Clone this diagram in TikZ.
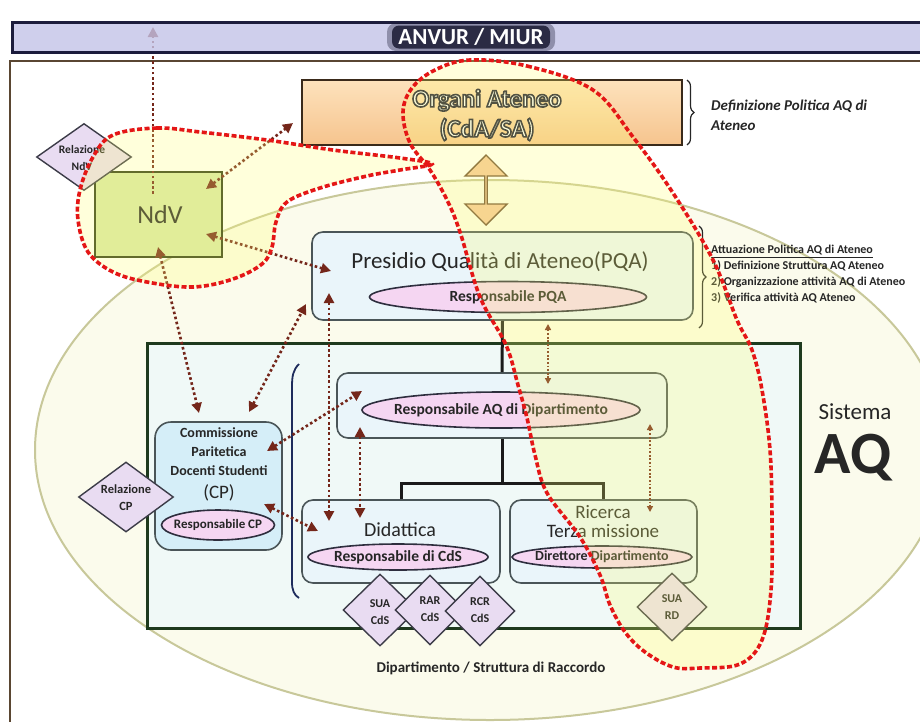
\documentclass[tikz,border=0pt]{standalone}
\usepackage{fontspec}
\setmainfont{Carlito}
\usetikzlibrary{arrows.meta,shapes.geometric,shapes.arrows,decorations.pathreplacing}

\definecolor{framebrown}{HTML}{5A4632}
\definecolor{barfill}{HTML}{C4C4E8}
\definecolor{barline}{HTML}{1C1C3C}
\definecolor{halodark}{HTML}{1A1A33}
\definecolor{ellfill}{HTML}{FBFBEC}
\definecolor{elldraw}{HTML}{C8C89A}
\definecolor{peachtop}{HTML}{FDE2BC}
\definecolor{peachbot}{HTML}{F6C48E}
\definecolor{orgline}{HTML}{3A2A1A}
\definecolor{boxfill}{HTML}{EAF5FA}
\definecolor{boxline}{HTML}{4A5558}
\definecolor{cpfill}{HTML}{D5EEF8}
\definecolor{dipfill}{HTML}{F0F9F7}
\definecolor{dipline}{HTML}{1E3A1E}
\definecolor{pinkfill}{HTML}{F5D6F2}
\definecolor{ovalline}{HTML}{2E2E3E}
\definecolor{docfill}{HTML}{E9DCF2}
\definecolor{docline}{HTML}{3C3C48}
\definecolor{ndvfill}{HTML}{D8E8A8}
\definecolor{ndvline}{HTML}{2E3A14}
\definecolor{linkbrown}{HTML}{74261A}
\definecolor{treeline}{HTML}{1A1A1A}
\definecolor{bracketblue}{HTML}{1E2C5C}
\definecolor{hlyellow}{HTML}{FFFF70}
\definecolor{hlred}{HTML}{E41616}
\definecolor{inkgray}{HTML}{262626}
\definecolor{arrowpeach}{HTML}{F5C89C}
\definecolor{arrowline}{HTML}{6E4E32}

% white letters whose outline is stroked in a dark ink
\newcommand\outlined[2][1.4]{\leavevmode
  \special{pdf:literal direct 2 Tr #1 w 0.1 0.1 0.2 RG}#2\special{pdf:literal direct 0 Tr}}
\newcommand\fsz[2]{\fontsize{#1}{#2}\selectfont}

\tikzset{
  box/.style={draw=boxline, line width=1.6pt, rounded corners=11pt, inner sep=0pt},
  oval/.style={ellipse, draw=ovalline, line width=1.6pt, fill=pinkfill, inner sep=0pt},
  ovaltext/.style={inner sep=0pt, text=inkgray, font=\bfseries\fsz{15.5}{18}},
  doc/.style={diamond, draw=docline, line width=1.4pt, fill=docfill, inner sep=0pt},
  doctext/.style={inner sep=0pt, align=center, text=inkgray, font=\bfseries\fsz{12}{17}},
  title/.style={inner sep=0pt, text=inkgray},
  link/.style={draw=linkbrown, line width=2.6pt, dash pattern=on 2.6pt off 2.6pt,
    arrows={Triangle[length=10pt,width=10pt]-Triangle[length=10pt,width=10pt]}},
  uplink/.style={link, arrows={-Triangle[length=10pt,width=10pt]}},
  faintlink/.style={draw=linkbrown, line width=1.6pt, dash pattern=on 1.8pt off 1.8pt,
    arrows={Triangle[length=6pt,width=6pt]-Triangle[length=6pt,width=6pt]}},
  tree/.style={draw=treeline, line width=3pt},
  hlzone/.style={draw=hlred, line width=3.6pt, dash pattern=on 5pt off 2.5pt},
  bracefig/.style={draw=inkgray, line width=1.2pt, decorate, decoration={brace, amplitude=7pt}}
}

\begin{document}
\begin{tikzpicture}[x=1pt, y=-1pt]
\useasboundingbox (0,0) rectangle (920,721);
\clip (0,0) rectangle (920,721);
\fill[white] (0,0) rectangle (920,721);

% Sistema AQ
\node[ellipse, draw=elldraw, fill=ellfill, line width=2pt, inner sep=0pt,
      minimum width=910pt, minimum height=540pt] (sys) at (490,450) {};
\draw[framebrown, line width=2.2pt] (10,61) rectangle (940,745);

% Organi Ateneo
\node[draw=orgline, line width=2pt, top color=peachtop, bottom color=peachbot,
      minimum width=380pt, minimum height=65pt, inner sep=0pt] (organi) at (492,112.5) {};
\node[title, text=white, align=center, font=\bfseries\fsz{25}{30}] (organitxt) at (487,115)
  {\outlined[1.6]{Organi Ateneo}\\\outlined[1.6]{(CdA/SA)}};
\draw[bracefig] (687,80) -- (687,145);
\node[title, anchor=west, align=left, font=\bfseries\itshape\fsz{15}{20}] (defpol) at (711,115)
  {Definizione Politica AQ di\\Ateneo};

% link between governing bodies and PQA
\node[double arrow, rotate=90, draw=arrowline, fill=arrowpeach, line width=1.4pt,
      minimum height=70pt, minimum width=42pt, double arrow head extend=11pt,
      inner sep=0pt] (oparrow) at (486,190) {};

% Presidio Qualita
\node[box, fill=boxfill, minimum width=381pt, minimum height=88pt] (pqa) at (502.5,276) {};
\node[title, font=\fsz{23}{26}] (pqatitle) at (500,262) {Presidio Qualità di Ateneo(PQA)};
\node[oval, minimum width=277pt, minimum height=31pt] (resppqa) at (508,297) {};
\node[ovaltext] (resppqatxt) at (resppqa) {Responsabile PQA};
\draw[bracefig] (699,226) -- (699,328);
\node[title, anchor=west, align=left, font=\bfseries\fsz{12}{16}] (attua) at (711,274.5)
  {\underline{Attuazione Politica AQ di Ateneo}\\
   1) Definizione Struttura AQ Ateneo\\
   2) Organizzazione attività AQ di Ateneo\\
   3) Verifica attività AQ Ateneo};

% Dipartimento
\node[draw=dipline, line width=3pt, fill=dipfill, minimum width=653pt,
      minimum height=285pt, inner sep=0pt] (dip) at (473.5,485.5) {};
\draw[bracketblue, line width=1.8pt] (299,364) .. controls (293,370) and (292,376) .. (292,387)
  -- (292,582) .. controls (292,590) and (294,595) .. (299,598);

\node[box, fill=boxfill, minimum width=330pt, minimum height=65pt] (respdipbox) at (502,405.5) {};
\node[oval, minimum width=278pt, minimum height=36pt] (respdip) at (501,410) {};
\node[ovaltext] (respdiptxt) at (respdip) {Responsabile AQ di Dipartimento};

\node[box, fill=boxfill, minimum width=198pt, minimum height=83pt] (didattica) at (401,541.5) {};
\node[title, font=\fsz{20}{24}] (didtitle) at (400,530) {Didattica};
\node[oval, minimum width=180pt, minimum height=26pt] (respcds) at (398,557) {};
\node[ovaltext] (respcdstxt) at (respcds) {Responsabile di CdS};

\node[box, fill=boxfill, minimum width=187pt, minimum height=83pt] (ricerca) at (603.5,541.5) {};
\node[title, align=center, font=\fsz{19}{19}] (rictitle) at (603,522) {Ricerca\\Terza missione};
\node[oval, minimum width=180pt, minimum height=22pt] (direttore) at (602,557) {};
\node[ovaltext, font=\bfseries\fsz{14}{16}] (direttoretxt) at (direttore) {Direttore Dipartimento};

% organisation chart lines
\draw[tree] (pqa.south) -- (respdipbox.north);
\draw[tree] (respdipbox.south) -- (502,483) coordinate (treejoint);
\draw[tree] (didattica.north) |- (treejoint) -| (ricerca.north);

% documents
\node[doc, minimum width=74pt, minimum height=72pt] (suacds) at (380,610) {};
\node[doctext] (suacdstxt) at (380,612) {SUA\\CdS};
\node[doc, minimum width=70pt, minimum height=70pt] (rarcds) at (430,610) {};
\node[doctext] (rarcdstxt) at (430,609) {RAR\\CdS};
\node[doc, minimum width=70pt, minimum height=70pt] (rcrcds) at (480,611) {};
\node[doctext] (rcrcdstxt) at (480,610) {RCR\\CdS};
\node[doc, minimum width=70pt, minimum height=68pt] (suard) at (672,607) {};
\node[doctext] (suardtxt) at (672,607) {SUA\\RD};

% Commissione Paritetica
\node[box, fill=cpfill, rounded corners=16pt, minimum width=127pt, minimum height=128pt] (cp) at (218.5,486) {};
\node[title, align=center, font=\bfseries\fsz{14}{19}] (cptitle) at (219,452)
  {Commissione\\Paritetica\\Docenti Studenti};
\node[title, font=\fsz{19}{22}] (cpabbr) at (219,493) {(CP)};
\node[oval, minimum width=113pt, minimum height=30pt] (respcp) at (218,525) {};
\node[ovaltext, font=\bfseries\fsz{13}{15}] (respcptxt) at (respcp) {Responsabile CP};
\node[doc, minimum width=95pt, minimum height=70pt] (relcp) at (126,497) {};
\node[doctext, font=\bfseries\fsz{12.5}{17}] (relcptxt) at (126,498) {Relazione\\CP};

% Nucleo di Valutazione
\node[draw=ndvline, line width=2pt, fill=ndvfill, minimum width=127pt,
      minimum height=85pt, inner sep=0pt] (ndv) at (158.5,214.5) {};
\node[title, font=\fsz{26}{30}] (ndvtxt) at (160,215) {NdV};
\node[doc, minimum width=95pt, minimum height=67pt] (relndv) at (84,157) {};
\node[doctext, font=\bfseries\fsz{11.5}{17}] (relndvtxt) at (82,158) {Relazione\\NdV};

% labels
\node[title, font=\fsz{23}{26}] (sistema) at (855,412) {Sistema};
\node[title, font=\bfseries\fsz{60}{64}] (aqbig) at (853,458) {AQ};
\node[title, font=\bfseries\fsz{15}{18}] (diplabel) at (491,668) {Dipartimento / Struttura di Raccordo};

% end points of the relations
\coordinate (ndvUp) at (153,194);    \coordinate (anvurHit) at (153,27);
\coordinate (ndvOrg) at (206,189);   \coordinate (orgHit) at (293,123);
\coordinate (ndvPqa) at (206,234);   \coordinate (pqaHitA) at (331,271);
\coordinate (ndvCp) at (158,247);    \coordinate (cpHitA) at (199,413);
\coordinate (pqaHitB) at (306,304);  \coordinate (cpHitB) at (249,412);
\coordinate (pqaHitC) at (329,293);  \coordinate (didHitA) at (329,521);
\coordinate (cpHitC) at (267,451);   \coordinate (dipHitA) at (362,391);
\coordinate (cpHitD) at (264,504);   \coordinate (didHitB) at (318,531);
\coordinate (dipHitB) at (360,427);  \coordinate (didHitC) at (360,518);
\coordinate (pqaHitD) at (548,324);  \coordinate (dipHitC) at (548,384);
\coordinate (dipHitD) at (650,424);  \coordinate (ricHitA) at (650,512);

\draw[uplink] (ndvUp) -- (anvurHit);
\draw[link] (ndvOrg) -- (orgHit);
\draw[link] (ndvPqa) -- (pqaHitA);
\draw[link] (ndvCp) -- (cpHitA);
\draw[link] (cpHitB) -- (pqaHitB);
\draw[link] (pqaHitC) -- (didHitA);
\draw[link] (cpHitC) -- (dipHitA);
\draw[link] (cpHitD) -- (didHitB);
\draw[link] (dipHitB) -- (didHitC);
\draw[faintlink] (pqaHitD) -- (dipHitC);
\draw[faintlink] (dipHitD) -- (ricHitA);

% ANVUR / MIUR bar
\node[draw=barline, line width=3pt, fill=barfill, fill opacity=0.8, draw opacity=1,
      minimum width=918pt, minimum height=30pt, inner sep=0pt] (anvur) at (471,37) {};
\node[fill=halodark, fill opacity=0.35, rounded corners=9pt, minimum width=168pt,
      minimum height=28pt, inner sep=0pt] (anvurglow) at (471,37) {};
\node[fill=halodark, fill opacity=0.85, rounded corners=7pt, minimum width=158pt,
      minimum height=23pt, inner sep=0pt] (anvurshade) at (471,37) {};
\node[title, text=white, font=\bfseries\fsz{23}{26}] (anvurtxt) at (471,37) {ANVUR / MIUR};

% highlighted zones
\fill[hlyellow, fill opacity=0.25]
  plot[smooth cycle, tension=0.6] coordinates {(113,135) (157,128) (200,132) (267,140) (333,150)
    (400,158) (432,164) (400,170) (367,176) (320,188) (287,202) (276,222) (272,247) (262,264)
    (233,279) (193,287) (147,282) (113,272) (88,252) (78,220) (80,190) (93,157)}
  plot[smooth cycle, tension=0.6] coordinates {(470,60) (527,66) (593,90) (633,137) (673,193)
    (713,260) (737,320) (752,350) (762,390) (770,450) (772,520) (771,590) (762,640) (740,664)
    (700,668) (673,667) (645,652) (625,632) (610,605) (600,575) (580,537) (547,493) (535,455)
    (527,418) (518,385) (506,345) (480,297) (460,232) (447,200) (430,170) (410,143) (403,112)
    (412,88) (435,70)};
\draw[hlzone] plot[smooth cycle, tension=0.6] coordinates {(113,135) (157,128) (200,132) (267,140)
    (333,150) (400,158) (432,164) (400,170) (367,176) (320,188) (287,202) (276,222) (272,247)
    (262,264) (233,279) (193,287) (147,282) (113,272) (88,252) (78,220) (80,190) (93,157)};
\draw[hlzone] plot[smooth cycle, tension=0.6] coordinates {(470,60) (527,66) (593,90) (633,137)
    (673,193) (713,260) (737,320) (752,350) (762,390) (770,450) (772,520) (771,590) (762,640)
    (740,664) (700,668) (673,667) (645,652) (625,632) (610,605) (600,575) (580,537) (547,493)
    (535,455) (527,418) (518,385) (506,345) (480,297) (460,232) (447,200) (430,170) (410,143)
    (403,112) (412,88) (435,70)};
\end{tikzpicture}
\end{document}
